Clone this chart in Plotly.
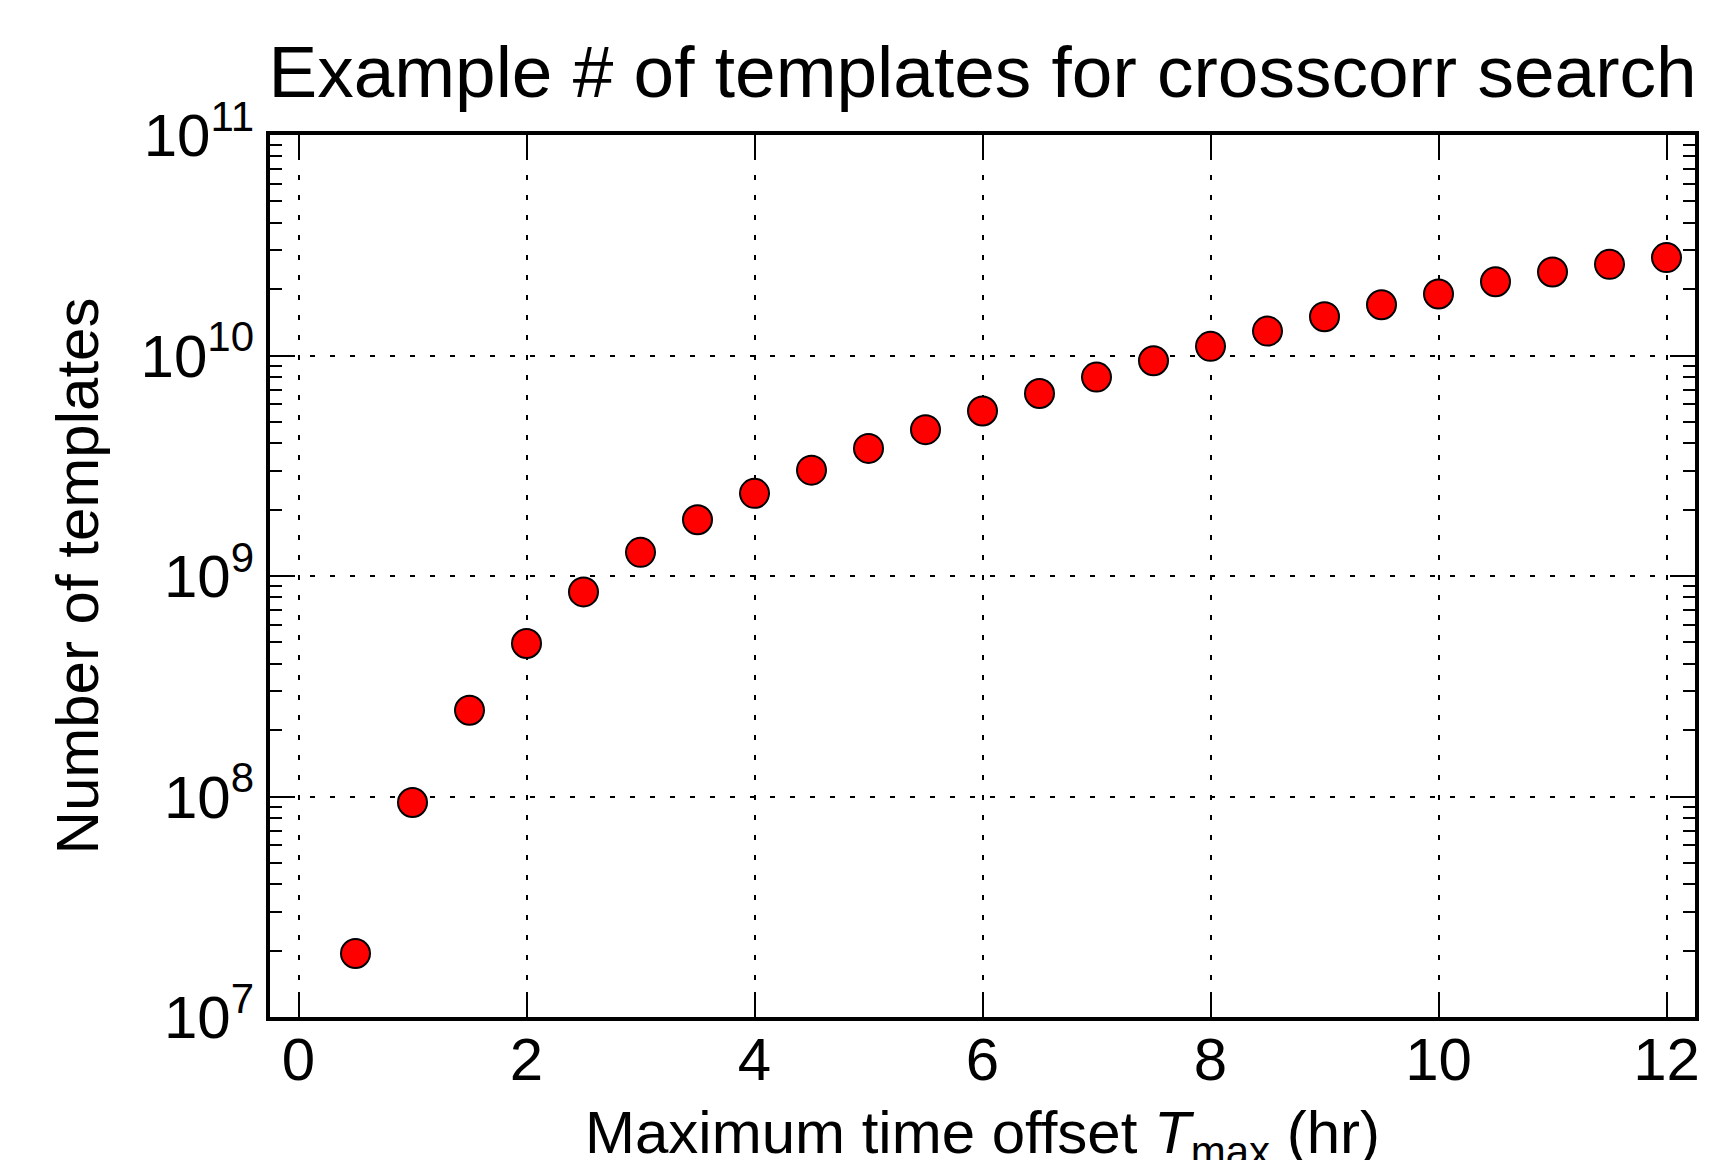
import plotly.graph_objects as go

# Data
t_max_hr = [0.5, 1.0, 1.5, 2.0, 2.5, 3.0, 3.5, 4.0, 4.5, 5.0, 5.5, 6.0,
            6.5, 7.0, 7.5, 8.0, 8.5, 9.0, 9.5, 10.0, 10.5, 11.0, 11.5, 12.0]
n_templates = [1.94e7, 9.4e7, 2.46e8, 4.94e8, 8.47e8, 1.28e9, 1.80e9, 2.37e9,
               3.02e9, 3.79e9, 4.61e9, 5.60e9, 6.72e9, 7.98e9, 9.47e9, 1.10e10,
               1.29e10, 1.50e10, 1.70e10, 1.90e10, 2.16e10, 2.39e10, 2.59e10, 2.78e10]

x_ticks = [0, 2, 4, 6, 8, 10, 12]
y_ticks = [1e7, 1e8, 1e9, 1e10, 1e11]
y_tick_text = ["10<sup>7</sup>", "10<sup>8</sup>", "10<sup>9</sup>",
               "10<sup>10</sup>", "10<sup>11</sup>"]
y_minor = [m * 10 ** e for e in range(7, 11) for m in range(2, 10)]

FONT = "Liberation Sans, Arial, Helvetica, sans-serif"

fig = go.Figure()
fig.add_trace(go.Scatter(
    x=t_max_hr, y=n_templates, mode="markers",
    marker=dict(color="#ff0000", size=29, line=dict(color="black", width=2)),
    showlegend=False,
))

fig.update_layout(
    width=1707, height=1152,
    margin=dict(l=262, r=20, t=127, b=143),
    paper_bgcolor="white", plot_bgcolor="white",
    font=dict(family=FONT, color="black", size=60),
    title=dict(text="Example # of templates for crosscorr search",
               x=0.5, xref="paper", xanchor="center",
               y=0.945, yref="container", yanchor="middle",
               font=dict(size=73, family=FONT, color="black")),
)

fig.add_annotation(
    text="Maximum time offset <i>T</i><sub>max</sub> (hr)",
    xref="paper", yref="paper", x=0.5, y=-0.0907,
    xanchor="center", yanchor="top", showarrow=False,
    font=dict(size=60, family=FONT, color="black"),
)

fig.update_xaxes(
    range=[-0.25, 12.25], automargin=False,
    tickmode="array", tickvals=x_ticks, ticktext=[str(v) for v in x_ticks],
    ticks="inside", ticklen=25, tickwidth=2, tickcolor="black",
    showline=True, linewidth=4, linecolor="black", mirror="ticks",
    showgrid=True, gridcolor="black", gridwidth=2, griddash="5px,15px",
    zeroline=False,
    ticklabelstandoff=-13,
    tickfont=dict(size=60, family=FONT),
)

fig.update_yaxes(
    type="log", range=[7, 11], automargin=False,
    tickmode="array", tickvals=y_ticks, ticktext=y_tick_text,
    ticks="inside", ticklen=25, tickwidth=2, tickcolor="black",
    minor=dict(ticks="inside", ticklen=12, tickwidth=2, tickcolor="black",
               tickvals=y_minor, showgrid=False),
    showline=True, linewidth=4, linecolor="black", mirror="ticks",
    showgrid=True, gridcolor="black", gridwidth=2, griddash="5px,15px",
    zeroline=False,
    tickfont=dict(size=60, family=FONT),
    title=dict(text="Number of templates", font=dict(size=60, family=FONT), standoff=24),
)

fig.write_html("out.html")
